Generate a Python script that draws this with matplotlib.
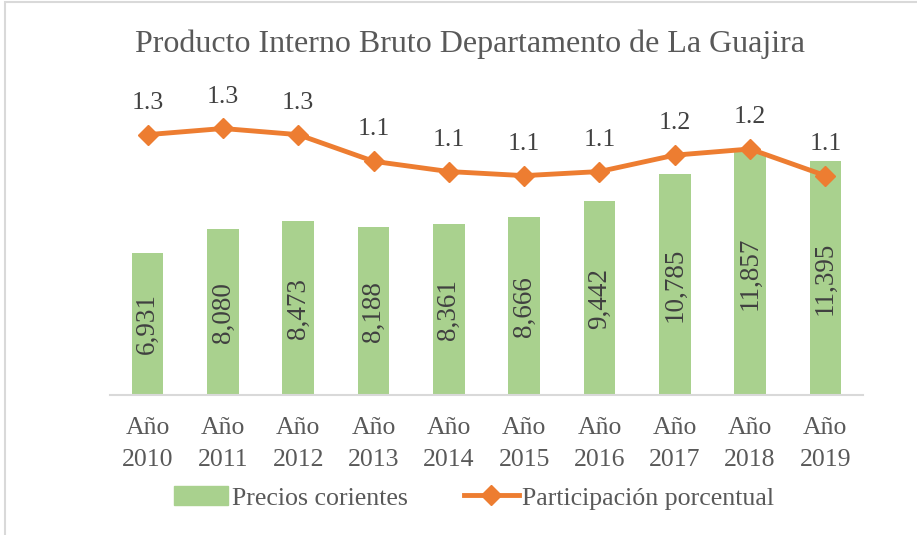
import matplotlib.pyplot as plt
from matplotlib.patches import Rectangle

years = ['2010', '2011', '2012', '2013', '2014', '2015', '2016', '2017', '2018', '2019']
precios = [6931, 8080, 8473, 8188, 8361, 8666, 9442, 10785, 11857, 11395]
participacion = [1.27, 1.30, 1.27, 1.14, 1.09, 1.07, 1.09, 1.17, 1.20, 1.07]
tick_labels = ['Año\n' + y for y in years]

green = '#A9D18E'
orange = '#ED7D31'
grey = '#595959'
dark = '#404040'

plt.rcParams['font.family'] = ['Liberation Serif', 'DejaVu Serif']

W, H = 917, 535
fig = plt.figure(figsize=(W / 100, H / 100), dpi=100)
# axes placed in pixel coords: x 110..863, y 108..395 (from top)
ax = fig.add_axes([110 / W, (H - 395) / H, 753 / W, 287 / H])
x = list(range(len(years)))

bars = ax.bar(x, precios, width=0.42, color=green, zorder=2)
for xi, v in zip(x, precios):
    ax.text(xi, v / 2, f'{v:,}', rotation=90, ha='center', va='center',
            fontsize=19.5, color=dark, zorder=3)

ax.set_xlim(-0.5, len(years) - 0.5)
ax.set_ylim(0, 14000)
ax.set_yticks([])
for s in ['top', 'right', 'left']:
    ax.spines[s].set_visible(False)
ax.spines['bottom'].set_color('#D9D9D9')
ax.spines['bottom'].set_linewidth(1.5)
ax.set_xticks(x)
ax.set_xticklabels(tick_labels, fontsize=18.5, color=grey, linespacing=1.55)
ax.tick_params(axis='x', length=0, pad=16)

ax2 = ax.twinx()
ax2.plot(x, participacion, color=orange, lw=3.5, marker='D', ms=10,
         zorder=4, solid_capstyle='round')
for xi, v in zip(x, participacion):
    ax2.annotate(f'{v:.1f}', (xi, v), xytext=(0, 23), textcoords='offset points',
                 ha='center', va='center', fontsize=18.5, color=dark)
ax2.set_ylim(0, 1.4)
ax2.set_yticks([])
for s in ax2.spines.values():
    s.set_visible(False)

fig.text(470 / W, 1 - 44 / H, 'Producto Interno Bruto Departamento de La Guajira',
         ha='center', va='center', fontsize=23, color=grey)

h1 = Rectangle((0, 0), 1, 1, color=green)
h2, = ax.plot([], [], color=orange, lw=3.5, marker='D', ms=10)
fig.legend([h1, h2], ['Precios corientes', 'Participación porcentual'],
           loc='center', bbox_to_anchor=(474 / W, 1 - 498 / H), ncol=2,
           frameon=False, fontsize=18.6, labelcolor=grey, handlelength=2.1,
           handletextpad=0.15, columnspacing=2.2)

# chart frame (top and left edges visible)
fig.patches.append(Rectangle((5 / W, -0.1), 1.2, 1.1 - 1.5 / H, transform=fig.transFigure,
                             fill=False, edgecolor='#D9D9D9', lw=1.5))

fig.savefig('out.png', dpi=100)
